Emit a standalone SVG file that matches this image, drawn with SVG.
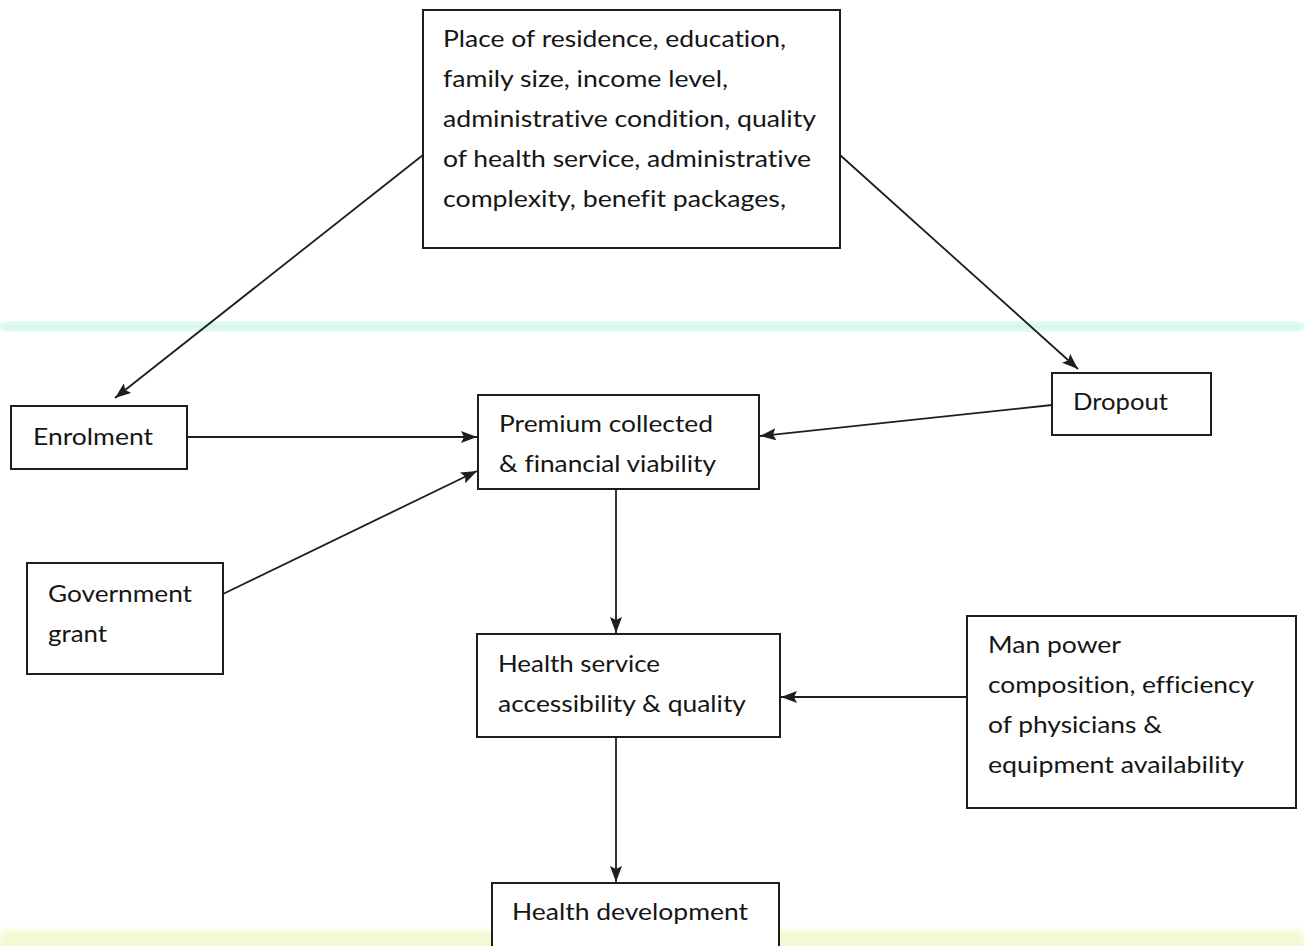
<svg xmlns="http://www.w3.org/2000/svg" width="1304" height="946" viewBox="0 0 1304 946">
<defs>
<style>
.box{fill:#fff;stroke:#1e1e1e;stroke-width:2}
.t{font-family:Lato,"Liberation Sans",sans-serif;font-size:22.5px;fill:#151515;font-variant-ligatures:none;font-feature-settings:"liga" 0,"clig" 0}
.c{fill:none;stroke:#1e1e1e;stroke-width:1.8}
</style>
<marker id="ah" viewBox="0 0 16 12" refX="16" refY="6" markerWidth="16" markerHeight="12" markerUnits="userSpaceOnUse" orient="auto">
<path d="M0,0 L16,6 L0,12 L3,6 Z" fill="#1e1e1e"/>
</marker>
<filter id="blur"><feGaussianBlur stdDeviation="3"/></filter>
</defs>
<rect width="1304" height="946" fill="#fff"/>
<rect x="0" y="322" width="1304" height="9" fill="#cdf5ec" filter="url(#blur)"/>
<rect x="0" y="930" width="1304" height="22" fill="#f3f9d2" filter="url(#blur)"/>
<g id="connectors">
<path class="c" d="M423,155 L115,398" marker-end="url(#ah)"/>
<path class="c" d="M840,155 L1078,369" marker-end="url(#ah)"/>
<path class="c" d="M187,437 L477,437" marker-end="url(#ah)"/>
<path class="c" d="M223,594 L477,471" marker-end="url(#ah)"/>
<path class="c" d="M1052,405 L760,436" marker-end="url(#ah)"/>
<path class="c" d="M616,489 L616,633" marker-end="url(#ah)"/>
<path class="c" d="M967,697 L781,697" marker-end="url(#ah)"/>
<path class="c" d="M616,737 L616,882" marker-end="url(#ah)"/>
</g>
<g id="factors">
<rect class="box" x="423" y="10" width="417" height="238"/>
<text class="t"><tspan x="443" y="47" textLength="343" lengthAdjust="spacingAndGlyphs">Place of residence, education,</tspan><tspan x="443" y="87" textLength="285" lengthAdjust="spacingAndGlyphs">family size, income level,</tspan><tspan x="443" y="127" textLength="373" lengthAdjust="spacingAndGlyphs">administrative condition, quality</tspan><tspan x="443" y="167" textLength="368" lengthAdjust="spacingAndGlyphs">of health service, administrative</tspan><tspan x="443" y="207" textLength="343" lengthAdjust="spacingAndGlyphs">complexity, benefit packages,</tspan></text>
</g>
<g id="enrolment">
<rect class="box" x="11" y="406" width="176" height="63"/>
<text class="t" x="33" y="445" textLength="120" lengthAdjust="spacingAndGlyphs">Enrolment</text>
</g>
<g id="dropout">
<rect class="box" x="1052" y="373" width="159" height="62"/>
<text class="t" x="1073" y="410" textLength="95" lengthAdjust="spacingAndGlyphs">Dropout</text>
</g>
<g id="premium">
<rect class="box" x="478" y="395" width="281" height="94"/>
<text class="t"><tspan x="499" y="432" textLength="214" lengthAdjust="spacingAndGlyphs">Premium collected</tspan><tspan x="499" y="472" textLength="217" lengthAdjust="spacingAndGlyphs">&amp; financial viability</tspan></text>
</g>
<g id="government">
<rect class="box" x="27" y="563" width="196" height="111"/>
<text class="t"><tspan x="48" y="602" textLength="144" lengthAdjust="spacingAndGlyphs">Government</tspan><tspan x="48" y="642" textLength="59" lengthAdjust="spacingAndGlyphs">grant</tspan></text>
</g>
<g id="health-service">
<rect class="box" x="477" y="634" width="303" height="103"/>
<text class="t"><tspan x="498" y="672" textLength="162" lengthAdjust="spacingAndGlyphs">Health service</tspan><tspan x="498" y="712" textLength="248" lengthAdjust="spacingAndGlyphs">accessibility &amp; quality</tspan></text>
</g>
<g id="manpower">
<rect class="box" x="967" y="616" width="329" height="192"/>
<text class="t"><tspan x="988" y="653" textLength="133" lengthAdjust="spacingAndGlyphs">Man power</tspan><tspan x="988" y="693" textLength="266" lengthAdjust="spacingAndGlyphs">composition, efficiency</tspan><tspan x="988" y="733" textLength="174" lengthAdjust="spacingAndGlyphs">of physicians &amp;</tspan><tspan x="988" y="773" textLength="256" lengthAdjust="spacingAndGlyphs">equipment availability</tspan></text>
</g>
<g id="health-development">
<rect class="box" x="492" y="883" width="287" height="70"/>
<text class="t" x="512" y="920" textLength="236" lengthAdjust="spacingAndGlyphs">Health development</text>
</g>
</svg>
